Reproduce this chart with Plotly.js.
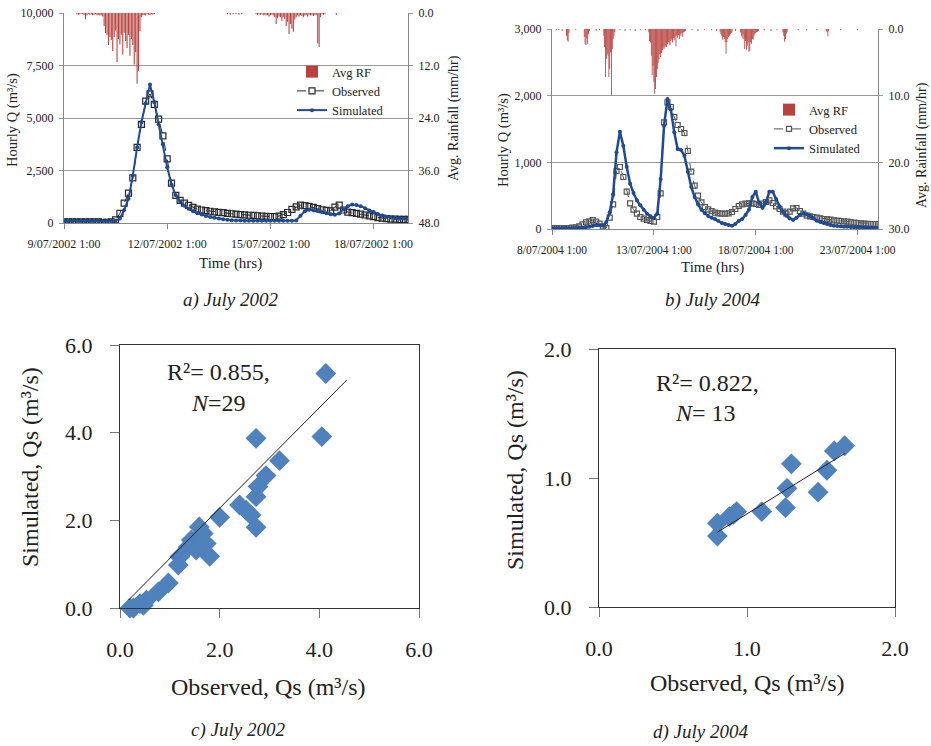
<!DOCTYPE html>
<html>
<head>
<meta charset="utf-8">
<script src="https://cdn.plot.ly/plotly-3.0.1.min.js"></script>
<style>html,body{margin:0;padding:0;background:#fff;}#chart{width:931px;height:746px;}</style>
</head>
<body>
<div id="chart"></div>
<script>
// ---------------- DATA ----------------
// Panel a (July 2002): hours since 9/07/2002 1:00, 3-hourly readings
const stepA = 3;
const obsA = [50,50,50,50,50,50,50,50,50,30,
  30,60,150,460,950,1420,2150,3600,4700,5800,
  6150,5650,4950,4150,3050,1900,1320,1080,950,840,
  740,660,620,590,560,530,510,490,460,440,
  420,400,385,370,360,345,330,320,310,305,
  330,400,500,650,770,850,830,790,740,680,
  630,600,580,760,850,620,520,490,460,420,
  380,340,300,260,230,210,185,180,175,175,
  175];
const simA = [100,100,100,100,100,100,100,100,100,100,
  100,100,110,220,620,1150,2250,3600,4800,5700,
  6600,5750,4700,3750,2650,1830,1320,1020,820,680,
  560,470,400,330,290,250,210,180,150,130,
  120,115,110,110,110,110,110,110,110,110,
  110,110,110,110,120,350,560,630,610,570,
  520,460,420,390,450,650,800,880,860,800,
  700,600,520,430,360,300,260,240,220,210,
  205];
const rfA_hours = [9,10,11,12,13,14,15,16,17,18,19,20,21,22,23,24,25,26,27,28,29,30,31,32,33,34,35,36,37,38,39,40,41,42,43,44,45,46,47,48,49,50,51,52,53,54,55,56,57,58,59,60,61,62,63,
  114,116,118,120,122,124,
  134,135,136,137,138,139,140,141,142,143,144,145,146,147,148,149,150,151,152,153,154,155,156,157,158,159,160,161,162,163,164,165,166,167,168,169,170,171,172,173,174,175,176,177,178,179,180,181,182,
  190];
const rfA_mm = [0.3,0.4,0.3,0.2,0.3,0.5,1.4,0.6,0.3,0.4, 0.3,0.5,0.4,0.3,0.5,0.4,0.6,0.5,0.8,3.0,
  4.6,5.0,7.3,5.5,6.2,8.7,5.5,4.0,11.2,6.0, 7.2,5.0,9.5,4.5,6.4,8.0,5.0,9.8,6.0,7.3,
  11.8,9.0,16.2,13.3,4.1,1.0,0.5,0.4,0.6,0.3, 0.4,0.5,0.3,0.4,0.3,
  0.3,0.4,0.3,0.3,0.4,0.3,
  0.3,0.4,0.3,0.4,0.3,0.5,0.4,0.6,0.5,0.8, 0.5,0.4,0.6,1.0,2.5,1.2,0.8,1.0,1.9,1.0,
  1.3,3.0,2.0,4.8,2.5,3.6,4.3,1.5,1.0,0.6, 0.8,0.5,0.7,1.0,0.6,0.5,0.8,0.4,0.6,0.5,
  0.7,0.4,0.5,6.9,7.8,1.0,0.3,0.4,0.3,
  0.4];
const ticksA_hours = [0,72,144,216];
const ticksA_text = ['9/07/2002 1:00','12/07/2002 1:00','15/07/2002 1:00','18/07/2002 1:00'];
const qTicksA = [0,2500,5000,7500,10000];
const qTextA = ['0','2,500','5,000','7,500','10,000'];
const rfTicksA = [0,12,24,36,48];
const rfTextA = ['0.0','12.0','24.0','36.0','48.0'];

// Panel b (July 2004): hours since 8/07/2004 1:00, 4-hourly readings
const stepB = 4;
const obsB = [15,15,15,15,15,15,20,25,40,70,
  100,115,135,110,80,40,15,170,370,870,
  930,780,560,385,290,230,180,155,135,120,
  110,180,535,1600,1900,1830,1680,1560,1500,1440,
  1170,860,650,500,400,330,295,270,245,235,
  230,230,235,255,300,345,370,380,385,385,
  375,360,380,405,430,390,340,300,260,235,
  260,310,315,270,230,200,190,180,170,160,
  150,145,140,130,125,120,115,110,100,95,
  90,85,80,78,75,75,75];
const simB = [10,10,10,10,10,10,12,15,15,18,
  25,35,45,60,55,50,105,250,520,1150,
  1460,1250,935,680,540,430,355,290,230,190,
  165,230,750,1550,1950,1790,1450,1200,1185,1100,
  860,630,480,370,290,235,195,170,150,120,
  90,75,60,50,75,120,150,210,290,480,
  560,390,320,400,560,560,450,340,260,200,
  160,135,170,210,235,220,195,160,125,105,
  90,75,60,50,45,40,35,32,30,28,
  26,25,24,22,21,20,20];
const rfB_hours = [5,8,12, 17,18,19,20, 28, 38,39,40,41,42,43,44, 52,56,
  61,62,63,64,65,66,67,68,69,70,71,72,73,74,
  80,86,92,98,104,110,
  114,115,116,117,118,119,120,121,122,123,124,125,126,127,128,129,130,131,132,133,134,135,136,137,138,139,140,141,142,143,144,145,146,147,148,149,150,151,152,153,154,155,156,157,
  165,172,180,188,194,
  198,199,200,201,202,203,204,205,206,207,208,209,210,211,212,
  216,
  222,223,224,225,226,227,228,229,230,231,232,233,234,235,236,237,238,239,240,241,242,243,
  250,258,265,
  272,273,274,275,276,277,
  290,300,312,
  323,324,325,326,
  340,360];
const rfB_mm = [0.2,0.2,0.3, 1.0,1.7,1.9,0.6, 0.2, 1.2,2.3,2.4,1.4,2.2,0.8,0.3, 0.3,0.2,
  1.0,2.7,7.2,4.5,3.7,4.0,7.2,6.0,3.5,10.0,3.0,1.5,1.0,0.5,
  0.2,0.3,0.2,0.3,0.2,0.2,
  0.5,1.8,2.0,4.0,6.9,5.5,8.0,9.7,9.0,7.2,6.0,5.1,4.5,3.8,4.2,3.6,3.2,2.8,3.0,2.7,2.5,2.7,2.3,2.0,2.2,2.4,1.8,1.6,2.0,1.4,1.7,1.2,2.6,1.0,1.3,0.9,1.5,0.8,1.0,0.6,1.2,0.5,0.4,0.3,
  0.2,0.3,0.2,0.2,0.3,
  0.5,0.8,1.0,1.6,1.2,1.5,2.0,3.7,2.0,1.5,1.2,1.0,0.8,0.6,0.5,
  0.3,
  0.5,1.0,1.4,0.8,1.5,3.0,1.8,3.1,2.5,2.0,3.4,3.3,2.0,2.2,1.5,1.6,1.0,0.8,0.6,0.5,0.4,0.3,
  0.2,0.3,0.2,
  0.5,1.0,1.9,1.5,0.7,0.4,
  0.2,0.2,0.2,
  0.3,0.5,1.1,0.3,
  0.2,0.2];
const ticksB_hours = [0,120,240,360];
const ticksB_text = ['8/07/2004 1:00','13/07/2004 1:00','18/07/2004 1:00','23/07/2004 1:00'];
const qTicksB = [0,1000,2000,3000];
const qTextB = ['0','1,000','2,000','3,000'];
const rfTicksB = [0,10,20,30];
const rfTextB = ['0.0','10.0','20.0','30.0'];

// Panel c (July 2002) sediment discharge
const obsC = [4.13,2.73,4.05,3.20,2.93,2.77,2.73,2.40,2.53,2.63,2.73,2.00,1.59,1.67,1.73,1.80,1.43,1.37,1.53,1.20,1.17,0.97,0.77,0.53,0.47,0.27,0.20,0.40,1.60];
const simC = [5.35,3.87,3.91,3.36,3.02,2.77,2.54,2.35,2.23,2.12,1.84,2.07,1.85,1.70,1.47,1.18,1.55,1.39,1.32,1.17,0.98,0.57,0.37,0.18,0.06,0.00,0.00,0.10,1.62];
const trendC_x = [0.17,4.55];
const trendC_y = [0.18,5.20];
const ticksC = [0,2,4,6];
const ticksC_text = ['0.0','2.0','4.0','6.0'];

// Panel d (July 2004)
const obsD = [1.66,1.59,1.30,1.54,1.48,1.27,1.26,1.10,0.93,0.88,0.80,0.80,0.91];
const simD = [1.25,1.21,1.11,1.06,0.89,0.92,0.77,0.74,0.74,0.70,0.65,0.55,0.72];
const trendD_x = [0.80,1.66];
const trendD_y = [0.58,1.19];
const ticksD = [0,1,2];
const ticksD_text = ['0.0','1.0','2.0'];

// ---------------- BUILD ----------------
const hoursA = obsA.map((_, i) => i * stepA);
const hoursB = obsB.map((_, i) => i * stepB);

const W = 931, H = 746;
const px = v => v / W;
const py = v => 1 - v / H;
const FONT = 'Liberation Serif, Times New Roman, serif';
const RF = '#B8403D', OBS = '#2a2a2a', SIM = '#1F4A94', DIA = '#4F81BD';

const traces = [
  {type:'bar', x:rfA_hours, y:rfA_mm, xaxis:'x', yaxis:'y2', name:'Avg RF', width:0.75,
   marker:{color:RF, line:{width:0}}, legend:'legend'},
  {type:'scatter', mode:'lines+markers', x:hoursA, y:obsA, xaxis:'x', yaxis:'y', name:'Observed',
   line:{color:OBS, width:1, dash:'dash'}, marker:{symbol:'square-open', size:6, color:OBS, line:{width:1.2}}, legend:'legend'},
  {type:'scatter', mode:'lines+markers', x:hoursA, y:simA, xaxis:'x', yaxis:'y', name:'Simulated',
   line:{color:SIM, width:2}, marker:{symbol:'circle', size:4, color:SIM}, legend:'legend'},

  {type:'bar', x:rfB_hours, y:rfB_mm, xaxis:'x2', yaxis:'y4', name:'Avg RF', width:1,
   marker:{color:RF, line:{width:0}}, legend:'legend2'},
  {type:'scatter', mode:'lines+markers', x:hoursB, y:obsB, xaxis:'x2', yaxis:'y3', name:'Observed',
   line:{color:'#555', width:1, dash:'dash'}, marker:{symbol:'square-open', size:5, color:'#555', line:{width:1.2}}, legend:'legend2'},
  {type:'scatter', mode:'lines+markers', x:hoursB, y:simB, xaxis:'x2', yaxis:'y3', name:'Simulated',
   line:{color:SIM, width:2.5}, marker:{symbol:'circle', size:4, color:SIM}, legend:'legend2'},

  {type:'scatter', mode:'markers', x:obsC, y:simC, xaxis:'x3', yaxis:'y5', showlegend:false, cliponaxis:false,
   marker:{symbol:'diamond', size:16, color:DIA}},
  {type:'scatter', mode:'lines', x:trendC_x, y:trendC_y, xaxis:'x3', yaxis:'y5', showlegend:false,
   line:{color:'#222', width:1}},

  {type:'scatter', mode:'markers', x:obsD, y:simD, xaxis:'x4', yaxis:'y6', showlegend:false, cliponaxis:false,
   marker:{symbol:'diamond', size:16, color:DIA}},
  {type:'scatter', mode:'lines', x:trendD_x, y:trendD_y, xaxis:'x4', yaxis:'y6', showlegend:false,
   line:{color:'#222', width:1}}
];

const topX = (dom, range, tv, tt, anchor, fs) => ({domain:dom, anchor:anchor, range:range, tickvals:tv, ticktext:tt,
  ticks:'outside', ticklen:5, tickcolor:'#888', showline:true, linecolor:'#888', linewidth:1,
  showgrid:false, zeroline:false, tickfont:{size:fs, family:FONT, color:'#222'}, ticklabelstandoff:5});
const topYL = (dom, range, tv, tt, anchor) => ({domain:dom, anchor:anchor, range:range, tickvals:tv, ticktext:tt,
  ticks:'outside', ticklen:4, tickcolor:'#999', showline:true, linecolor:'#888', linewidth:1,
  showgrid:true, gridcolor:'#999', gridwidth:1, zeroline:false, tickfont:{size:12, family:FONT, color:'#222'}, ticklabelstandoff:3});
const topYR = (over, range, tv, tt, anchor) => ({overlaying:over, anchor:anchor, side:'right', range:range, tickvals:tv, ticktext:tt,
  ticks:'outside', ticklen:4, tickcolor:'#999', showline:true, linecolor:'#888', linewidth:1,
  showgrid:false, zeroline:false, tickfont:{size:12, family:FONT, color:'#222'}, ticklabelstandoff:3});
const scAx = (dom, range, tv, tt, anchor) => ({domain:dom, anchor:anchor, range:range, tickvals:tv, ticktext:tt,
  ticks:'outside', ticklen:9, tickcolor:'#777', showline:true, mirror:true, linecolor:'#333', linewidth:1,
  showgrid:false, zeroline:false, tickfont:{size:22, family:FONT, color:'#222'}, ticklabelstandoff:13});

const ann = (text, x, y, size, opts, style) => Object.assign({text:text, x:px(x), y:py(y), xref:'paper', yref:'paper',
  showarrow:false, xanchor:'center', yanchor:'middle', font:{size:size, family:FONT, color:'#222', style:style || 'normal'}}, opts || {});

const layout = {
  width:W, height:H, margin:{l:0, r:0, t:0, b:0}, paper_bgcolor:'#fff', plot_bgcolor:'#fff',
  font:{family:FONT, color:'#222', size:12},
  xaxis: topX([px(64), px(408)], [0,240], ticksA_hours, ticksA_text, 'y', 12),
  yaxis: topYL([py(223), py(13)], [0,10000], qTicksA, qTextA, 'x'),
  yaxis2: topYR('y', [48,0], rfTicksA, rfTextA, 'x'),
  xaxis2: topX([px(552), px(878)], [0,384], ticksB_hours, ticksB_text, 'y3', 11.5),
  yaxis3: topYL([py(229), py(29)], [0,3000], qTicksB, qTextB, 'x2'),
  yaxis4: topYR('y3', [30,0], rfTicksB, rfTextB, 'x2'),
  xaxis3: scAx([px(120), px(419)], [0,6], ticksC, ticksC_text, 'y5'),
  yaxis5: scAx([py(608), py(345)], [0,6], ticksC, ticksC_text, 'x3'),
  xaxis4: scAx([px(599), px(895)], [0,2], ticksD, ticksD_text, 'y6'),
  yaxis6: scAx([py(607), py(349)], [0,2], ticksD, ticksD_text, 'x4'),
  legend: {x:px(292), y:py(57), xanchor:'left', yanchor:'top', bgcolor:'rgba(0,0,0,0)', borderwidth:0,
           font:{size:12.5, family:FONT, color:'#222'}, itemwidth:30, tracegroupgap:0},
  legend2: {x:px(769), y:py(95), xanchor:'left', yanchor:'top', bgcolor:'rgba(0,0,0,0)', borderwidth:0,
           font:{size:12.5, family:FONT, color:'#222'}, itemwidth:30, tracegroupgap:0},
  annotations: [
    ann('Hourly Q (m³/s)', 12, 120, 14.5, {textangle:-90}),
    ann('Avg. Rainfall (mm/hr)', 454, 118, 14, {textangle:-90}),
    ann('Time (hrs)', 230, 263, 15),
    ann('a) July 2002', 230, 300, 19, {}, 'italic'),
    ann('Hourly Q (m³/s)', 503, 140, 14.5, {textangle:-90}),
    ann('Avg. Rainfall (mm/hr)', 922, 145, 14, {textangle:-90}),
    ann('Time (hrs)', 712, 267, 15),
    ann('b) July 2004', 712, 300, 19, {}, 'italic'),
    ann('Simulated, Qs (m³/s)', 30, 467, 24, {textangle:-90}),
    ann('Observed, Qs (m³/s)', 268, 687, 24),
    ann('R²= 0.855,', 218, 372, 24),
    ann('<i>N</i>=29', 218, 403, 24),
    ann('c) July 2002', 238, 730, 19, {}, 'italic'),
    ann('Simulated, Qs (m³/s)', 515, 470, 24, {textangle:-90}),
    ann('Observed, Qs (m³/s)', 747, 683, 24),
    ann('R²= 0.822,', 707, 383, 24),
    ann('<i>N</i>= 13', 705, 413, 24),
    ann('d) July 2004', 700, 732, 19, {}, 'italic')
  ]
};

Plotly.newPlot('chart', traces, layout, {displayModeBar:false, staticPlot:true});
</script>
</body>
</html>
